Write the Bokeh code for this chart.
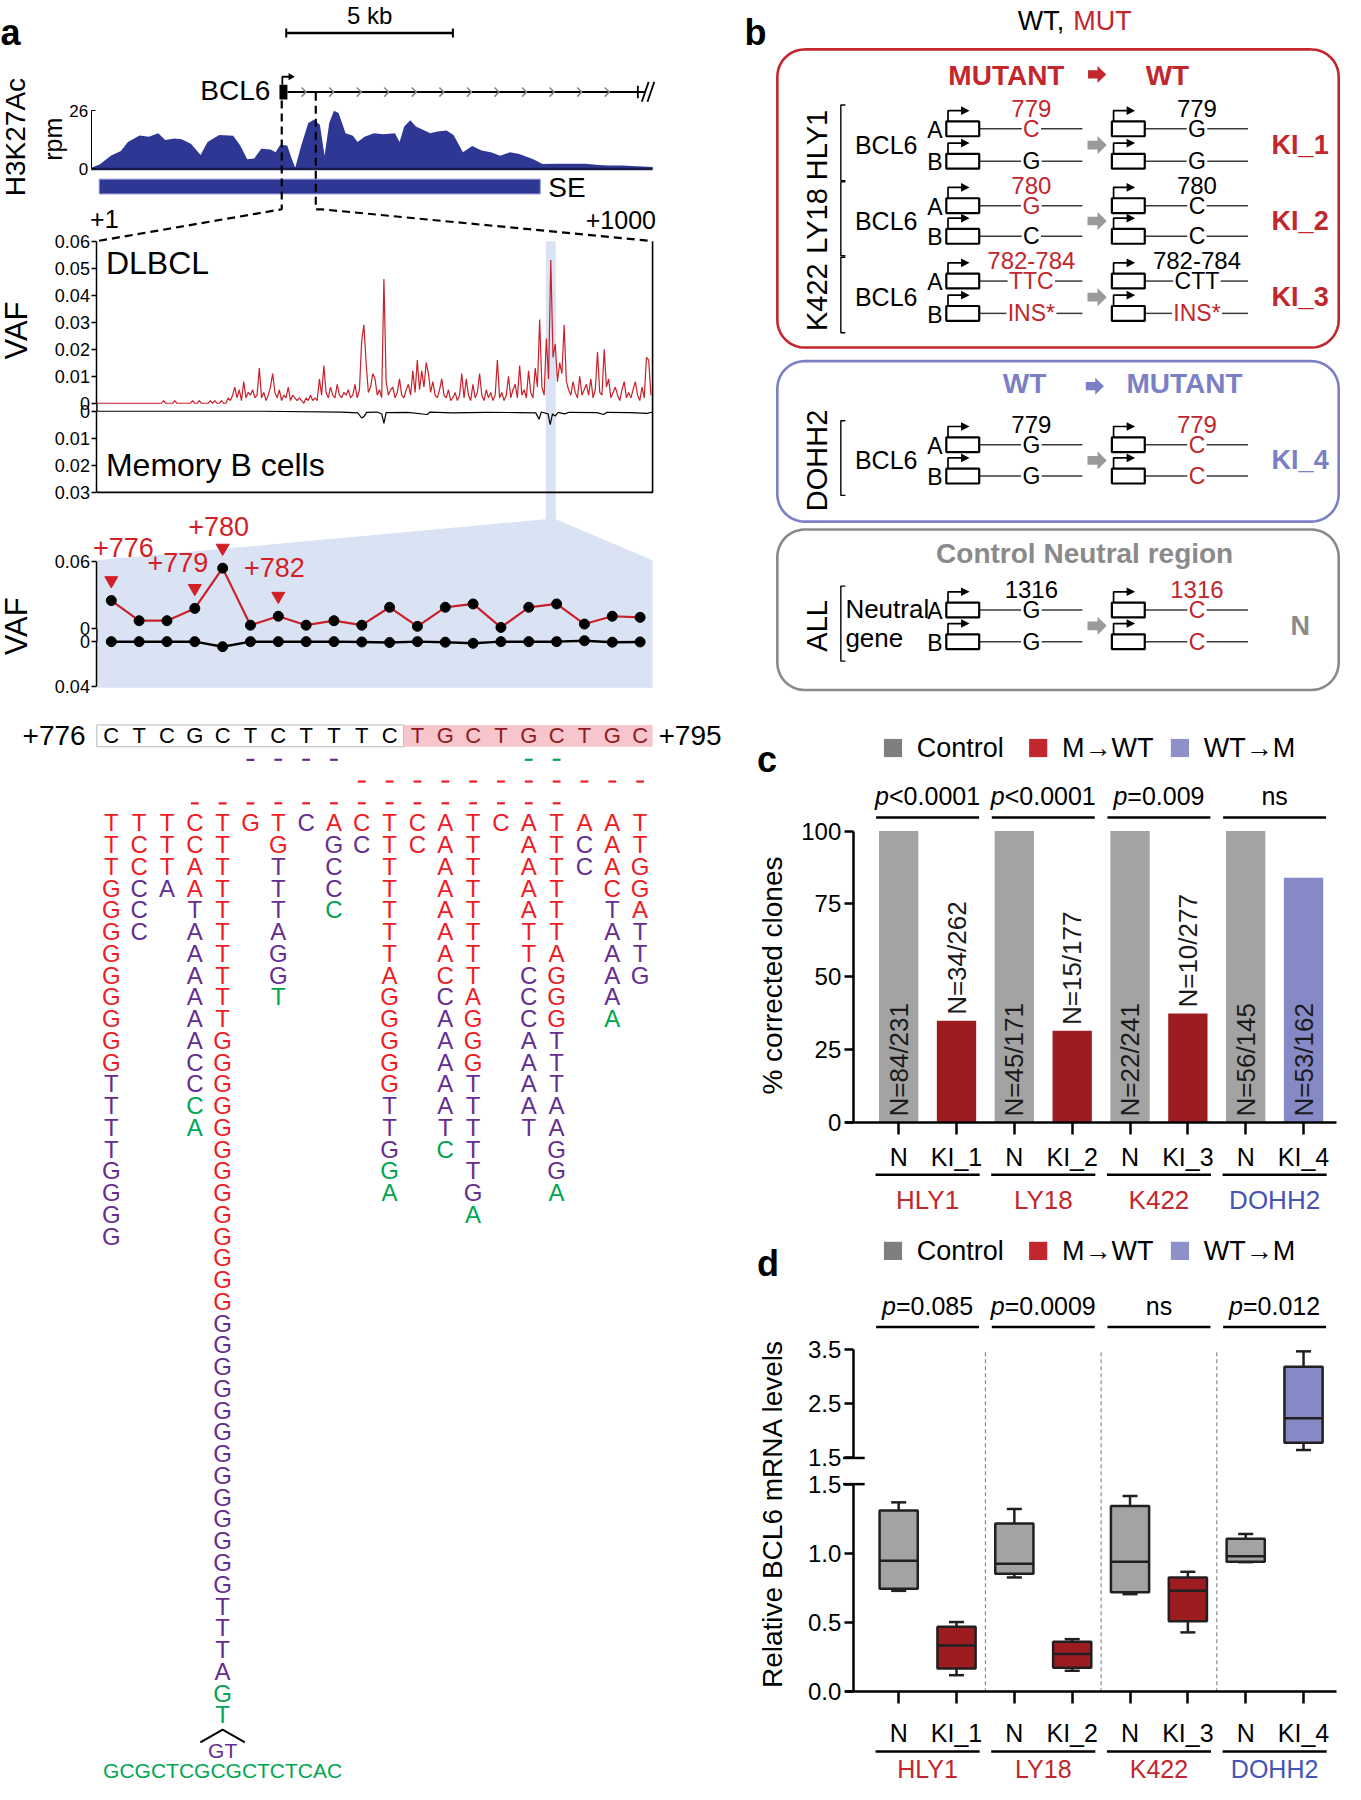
import math
from bokeh.plotting import figure
from bokeh.models import Range1d, LinearAxis, FixedTicker, ColumnDataSource, NumeralTickFormatter
from bokeh.core.properties import value, field
from bokeh.embed import file_html
from bokeh.resources import INLINE

# ============================ DATA ============================
# (a) H3K27Ac signal (kb from window start, rpm)
H3_KB = [0.00, 0.25, 0.60, 0.89, 1.10, 1.45, 1.73, 2.01, 2.22, 2.50, 2.71, 2.99, 3.28, 3.49, 3.84,
         4.26, 4.47, 4.68, 4.89, 5.10, 5.38, 5.53, 5.67, 5.88, 6.02, 6.12, 6.30, 6.51, 6.68, 6.86,
         7.00, 7.14, 7.28, 7.42, 7.63, 7.85, 7.99, 8.20, 8.48, 8.76, 9.11, 9.25, 9.39, 9.57, 9.74,
         9.95, 10.17, 10.38, 10.66, 10.87, 11.15, 11.43, 11.71, 11.99, 12.27, 12.56, 12.84, 13.26,
         13.54, 13.96, 14.38, 14.81, 15.23, 15.51, 15.93, 16.35, 16.84]
H3_RPM = [0.5, 2, 6, 8, 12, 15, 14.4, 16, 13, 13.6, 13.3, 11.3, 6.2, 12, 15.2,
          14.9, 10.5, 4.3, 4.6, 9, 8.7, 7.4, 10.8, 10.5, 4.3, 0.5, 10.5, 20.6, 22, 19.8,
          5.9, 20.6, 26, 25, 16, 14.9, 12, 14.4, 16, 15.5, 16, 12, 19, 21.8, 19,
          17.5, 16, 16.7, 17.2, 15.2, 7.4, 10.2, 8.2, 7.4, 5.9, 7.4, 6.7, 4.3,
          2.2, 2.3, 2.3, 2.3, 1.7, 1.5, 1.5, 1.2, 0.9]
SE_KB = (0.24, 13.47)
SCALE_KB = 5
H3_TICKS = [0, 26]

# (a) VAF along +1..+1000
DLBCL_POS = list(range(1, 1000, 4))
DLBCL_VAF_PERMIL = [
    0, 0, 0, 0, 0, 0, 0, 0, 0, 0,
    0, 0, 0, 0, 0, 0, 0, 0, 0, 0,
    0, 0, 0, 0, 0, 0, 0, 0, 0, 0,
    1, 0, 0, 0, 0, 1, 0, 0, 0, 0,
    0, 0, 0, 1, 0, 0, 1, 0, 0, 0,
    0, 1, 0, 1, 0, 0, 1, 0, 0, 2,
    1, 3, 6, 2, 5, 1, 8, 2, 4, 3,
    5, 2, 3, 13, 2, 4, 1, 3, 6, 11,
    4, 2, 5, 1, 3, 2, 6, 1, 3, 2,
    1, 2, 1, 0, 2, 1, 3, 1, 2, 1,
    9, 3, 14, 4, 2, 6, 3, 2, 7, 3,
    2, 4, 3, 5, 2, 3, 7, 2, 5, 23,
    29, 15, 4, 6, 11, 9, 3, 5, 2, 46,
    8, 3, 5, 6, 2, 4, 9, 3, 2, 5,
    7, 3, 12, 4, 16, 5, 12, 6, 15, 11,
    4, 8, 3, 2, 5, 9, 3, 2, 5, 1,
    2, 4, 1, 3, 11, 2, 9, 3, 1, 7,
    2, 4, 11, 3, 1, 5, 2, 4, 1, 3,
    16, 2, 4, 1, 3, 10, 2, 5, 7, 2,
    14, 3, 5, 2, 12, 4, 2, 13, 6, 31,
    6, 3, 24, 9, 53, 17, 22, 8, 15, 11,
    29, 8, 5, 3, 8, 4, 2, 10, 3, 5,
    7, 3, 9, 2, 5, 19, 4, 3, 20, 6,
    9, 2, 4, 6, 3, 1, 5, 8, 2, 4,
    2, 5, 8, 3, 1, 6, 2, 17, 16, 3]
MEMB_POS = [1, 300, 440, 470, 477, 481, 486, 505, 513, 517, 521, 560, 595, 600, 640, 700, 760,
            790, 796, 800, 812, 816, 820, 825, 830, 842, 850, 900, 912, 918, 960, 990, 1000]
MEMB_VAF = [0, 0, 0.0003, 0.0006, 0.0025, 0.002, 0.0004, 0.0003, 0.001, 0.0045, 0.0005, 0.0004,
            0.0012, 0.0003, 0.0006, 0.0004, 0.0005, 0.0006, 0.003, 0.0003, 0.001, 0.005, 0.001,
            0.0018, 0.0004, 0.001, 0.0004, 0.0005, 0.0012, 0.0004, 0.0005, 0.0008, 0.0003]
VAF_TICKS = [0, 0.01, 0.02, 0.03, 0.04, 0.05, 0.06]
MEMB_TICKS = [0, 0.01, 0.02, 0.03]
HIGHLIGHT_POS = (808, 826)

# (a) zoom +776..+795
ZOOM_POS = [776, 777, 778, 779, 780, 781, 782, 783, 784, 785,
            786, 787, 788, 789, 790, 791, 792, 793, 794, 795]
ZOOM_DLBCL = [0.025, 0.007, 0.007, 0.018, 0.054, 0.003, 0.011, 0.003, 0.007, 0.003,
              0.019, 0.002, 0.019, 0.022, 0.001, 0.019, 0.022, 0.004, 0.011, 0.010]
ZOOM_MEMB = [0.0, 0.0, 0.0, 0.0, 0.0045, 0.0, 0.0, 0.0, 0.0, 0.0003,
             0.0008, 0.0, 0.0005, 0.0015, 0.0, 0.0, 0.0, -0.0008, 0.0005, 0.0003]
ZOOM_MARKS = [776, 779, 780, 782]
ZOOM_UP_TICKS = [0, 0.06]
ZOOM_DOWN_TICKS = [0, 0.04]

REF_SEQ = "CTCGCTCTTTCTGCTGCTGC"
REF_HL_START = 11
DEL_MARKS = [
    [("p", [5, 6, 7, 8]), ("g", [15, 16])],
    [("r", [9, 10, 11, 12, 13, 14, 15, 16, 17, 18, 19])],
    [("r", [3, 4, 5, 6, 7, 8, 9, 10, 11, 12, 13, 14, 15, 16])],
]
ALN_SEQ = [
    "TTTGGGGGGGGGTTTTGGGG", "TCCCCC", "TTTA", "CCAATAAAAAACCCA",
    "TTTTTTTTTT" "GGGGGGGGGGGGG" "GGGGGGGGGGGGG" "TTTAGT",
    "G", "TGTTTAGGT", "C", "AGCCC", "CC", "TTTTTTTAGGGGGTTGGA", "CC",
    "AAAAAAACCAAAAATC", "TTTTTTTTAGGGTTTTTGA", "C", "AAAAATTCCCAAAAT",
    "TTTTTTAGGGTTTAAGGA", "ACC", "AAACTAAAAA", "TTGGATTG"]
ALN_RUNS = [
    [("r", 12), ("p", 8)], [("r", 3), ("p", 3)], [("r", 3), ("p", 1)],
    [("r", 4), ("p", 9), ("g", 2)], [("r", 23), ("p", 17), ("g", 2)], [("r", 1)],
    [("r", 2), ("p", 6), ("g", 1)], [("p", 1)], [("r", 1), ("p", 3), ("g", 1)],
    [("r", 1), ("p", 1)], [("r", 13), ("p", 3), ("g", 2)], [("r", 2)],
    [("r", 8), ("p", 7), ("g", 1)], [("r", 12), ("p", 6), ("g", 1)], [("r", 1)],
    [("r", 7), ("p", 8)], [("r", 10), ("p", 7), ("g", 1)], [("r", 1), ("p", 2)],
    [("r", 4), ("p", 5), ("g", 1)], [("r", 5), ("p", 3)]]
INS_COL = 4
INS_GT = "GT"
INS_SEQ = "GCGCTCGCGCTCTCAC"

# (b) knock-in design
B_CELL = ["HLY1", "LY18", "K422", "DOHH2", "ALL"]
B_GENE = ["BCL6", "BCL6", "BCL6", "BCL6", "Neutral gene"]
B_SITE = ["779", "780", "782-784", "779", "1316"]
B_BEFORE = [("C", "G"), ("G", "C"), ("TTC", "INS*"), ("G", "G"), ("G", "G")]
B_BEFORE_MUT = [(True, False), (True, False), (True, True), (False, False), (False, False)]
B_AFTER = [("G", "G"), ("C", "C"), ("CTT", "INS*"), ("C", "C"), ("C", "C")]
B_AFTER_MUT = [(False, False), (False, False), (False, True), (True, True), (True, True)]
B_SITE_MUT = [(True, False), (True, False), (True, False), (False, True), (False, True)]
B_CLONE = ["KI_1", "KI_2", "KI_3", "KI_4", "N"]

# (c) corrected clones
GROUPS = ["HLY1", "LY18", "K422", "DOHH2"]
CONDS = ["N", "KI_1", "N", "KI_2", "N", "KI_3", "N", "KI_4"]
KIND = ["ctrl", "mwt", "ctrl", "mwt", "ctrl", "mwt", "ctrl", "wtm"]
C_PCT = [100, 34.9, 100, 31.4, 100, 37.4, 100, 84.0]
C_N = ["N=84/231", "N=34/262", "N=45/171", "N=15/177", "N=22/241", "N=10/277", "N=56/145", "N=53/162"]
C_P = ["p<0.0001", "p<0.0001", "p=0.009", "ns"]
C_TICKS = [0, 25, 50, 75, 100]
LEGEND = ["Control", "M\u2192WT", "WT\u2192M"]

# (d) BCL6 mRNA
D_P = ["p=0.085", "p=0.0009", "ns", "p=0.012"]
D_WLO = [0.727, 0.116, 0.824, 0.148, 0.703, 0.426, 0.935, 1.647]
D_Q1 = [0.743, 0.164, 0.851, 0.170, 0.716, 0.506, 0.937, 1.781]
D_MED = [0.945, 0.331, 0.924, 0.269, 0.937, 0.727, 0.978, 2.236]
D_Q3 = [1.309, 0.466, 1.215, 0.358, 1.341, 0.824, 1.104, 3.186]
D_WHI = [1.368, 0.501, 1.320, 0.377, 1.414, 0.865, 1.139, 3.473]
D_LO_TICKS = [0, 0.5, 1.0, 1.5]
D_HI_TICKS = [1.5, 2.5, 3.5]

# ============================ STYLE ============================
W, H = 1345, 1784
CW, CH = 1186.0, 1568.0
S = W / CW
FONT = "Liberation Sans"
RED = "#c1272d"
PURP = "#7b7fc6"
GRAYT = "#8a8a8a"
TRACK = "#2f3794"
LIGHTBLUE = "#dae3f3"
VAFRED = "#c9202a"
SEQ_COL = {"r": "#ee1c25", "p": "#662d91", "g": "#00a651"}
KIND_FILL = {"ctrl": "#a3a3a3", "mwt": "#9d1c20", "wtm": "#8589c6"}
LEG_FILL = ["#7f7f7f", "#c1272d", "#8d90c9"]
GROUP_COL = [RED, RED, RED, "#4654b4"]
EM = {"p": .556, "n": .556, "s": .5, "<": .584, "=": .584, ".": .278, "C": .722, "G": .778,
      "T": .611, "A": .667, "I": .278, "N": .722, "S": .667, "*": .389}

p = figure(width=W, height=H, x_range=Range1d(0, CW), y_range=Range1d(CH, 0),
           output_backend="svg", toolbar_location=None, min_border=0,
           x_axis_location=None, y_axis_location=None)
p.outline_line_color = None
p.grid.visible = False
p.background_fill_color = "white"
p.border_fill_color = "white"


def xmap(px0, v0, px1, v1):
    k = (v1 - v0) / (px1 - px0)
    return Range1d(start=v0 - px0 * k, end=v0 + (CW - px0) * k)


def ymap(px0, v0, px1, v1):
    k = (v1 - v0) / (px1 - px0)
    return Range1d(start=v0 + (CH - px0) * k, end=v0 - px0 * k)


p.extra_x_ranges = {
    "kb": xmap(80, 0, 575, 16.84),
    "pos": xmap(85, 1, 575, 1000),
    "zpos": xmap(97.7, 776, 564, 795),
    "cx": xmap(792, 0, 1149, 7),
}
p.extra_y_ranges = {
    "rpm": ymap(148, 0, 97, 26),
    "vaf": ymap(354, 0, 211.5, 0.06),
    "vafm": ymap(361, 0, 432.3, 0.03),
    "zvaf": ymap(552, 0, 493, 0.06),
    "zvafm": ymap(563.5, 0, 603, 0.04),
    "row": ymap(722.8, 0, 741.92, 1),
    "cy": ymap(986, 0, 730, 100),
    "dlo": ymap(1486, 0, 1304, 1.5),
    "dhi": ymap(1281, 1.5, 1186, 3.5),
}


def lst(v):
    return list(v) if isinstance(v, (list, tuple)) else [v]


def T(x, y, s, size, color="black", align="center", baseline="middle", style="normal",
      angle=0.0, xn="default", yn="default", xoff=0):
    xs, ys, ss = lst(x), lst(y), lst(s)
    data = dict(x=xs, y=ys, text=ss)
    if isinstance(color, list):
        data["c"] = color
        tc = field("c")
    else:
        tc = color
    p.text(x="x", y="y", text="text", source=ColumnDataSource(data), text_color=tc,
           text_font=value(FONT), text_font_size=f"{size}px", text_align=align,
           text_baseline=baseline, text_font_style=style, angle=angle, x_offset=xoff,
           x_range_name=xn, y_range_name=yn)


def L(xs, ys, color="black", width=1.5, dash="solid", xn="default", yn="default"):
    p.line(list(xs), list(ys), line_color=color, line_width=width, line_dash=dash,
           x_range_name=xn, y_range_name=yn)


def SEG(x0, y0, x1, y1, color="black", width=1.5, dash="solid", xn="default", yn="default"):
    p.segment(x0=lst(x0), y0=lst(y0), x1=lst(x1), y1=lst(y1), line_color=color,
              line_width=width, line_dash=dash, x_range_name=xn, y_range_name=yn)


def POLY(xs, ys, fill, line=None, lw=1.0):
    p.patch(list(xs), list(ys), fill_color=fill, line_color=line, line_width=lw)


def text_w(s, size):
    return sum(EM.get(c, .556) for c in s) * size / S


def style_axis(ax, size, tick_out, tick_in=0, width=1.5, standoff=3):
    ax.major_label_text_font = FONT
    ax.major_label_text_font_size = f"{size}px"
    ax.major_label_text_color = "black"
    ax.axis_line_width = width
    ax.axis_line_color = "black"
    ax.major_tick_line_width = width
    ax.major_tick_line_color = "black"
    ax.major_tick_out = tick_out
    ax.major_tick_in = tick_in
    ax.minor_tick_line_color = None
    ax.major_label_standoff = standoff


def vaxis(rng, xloc, bounds, ticks, size, fmt, tick_out=5, width=1.5, standoff=2):
    ax = LinearAxis(y_range_name=rng, fixed_location=xloc, bounds=bounds,
                    ticker=FixedTicker(ticks=list(ticks)), formatter=NumeralTickFormatter(format=fmt))
    style_axis(ax, size, tick_out, width=width, standoff=standoff)
    p.add_layout(ax, "left")


def block_arrow(xc, yc, w, h, color):
    x0, xm, x1 = xc - w / 2, xc + w * 0.02, xc + w / 2
    POLY([x0, xm, xm, x1, xm, xm, x0],
         [yc - h * 0.24, yc - h * 0.24, yc - h / 2, yc, yc + h / 2, yc + h * 0.24, yc + h * 0.24], color)


def rrect(x0, y0, x1, y1, r, color, lw=2.6):
    xs, ys = [], []
    for cx, cy, a0 in [(x1 - r, y0 + r, -90), (x1 - r, y1 - r, 0), (x0 + r, y1 - r, 90), (x0 + r, y0 + r, 180)]:
        for k in range(11):
            a = math.radians(a0 + 9 * k)
            xs.append(cx + r * math.cos(a))
            ys.append(cy + r * math.sin(a))
    xs.append(xs[0]); ys.append(ys[0])
    p.line(xs, ys, line_color=color, line_width=lw)


# ============================ PANEL A ============================
T(0, 28, "a", 36, style="bold", align="left", baseline="alphabetic")
sb0 = 5.85
SEG(sb0, 28.5, sb0 + SCALE_KB, 28.5, width=2.4, xn="kb")
SEG([sb0, sb0 + SCALE_KB], [24.5, 24.5], [sb0, sb0 + SCALE_KB], [32.5, 32.5], width=2, xn="kb")
T(sb0 + SCALE_KB / 2, 13, f"{SCALE_KB} kb", 24, xn="kb")

T(13, 120, "H3K27Ac", 28, angle=math.pi / 2)
T(46, 122, "rpm", 25, angle=math.pi / 2)

# gene model
T(238, 79, "BCL6", 28, align="right")
L([253, 569], [80.5, 80.5], width=2)
p.quad(left=[246], right=[253], top=[74], bottom=[87], fill_color="black", line_color=None)
L([248.5, 248.5, 255], [74, 67, 67], width=1.8)
POLY([254, 259.5, 254], [63.8, 67, 70.2], "black")
chev_x = [268 + 24.3 * j for j in range(12)]
p.multi_line([[x - 2.5, x + 1.5, x - 2.5] for x in chev_x], [[76.5, 80.5, 84.5] for _ in chev_x],
             line_color="#8a8a8a", line_width=1.6)
SEG(562, 75, 562, 86, width=1.8)
SEG([565.5, 570.5], [89, 89], [571.5, 576.5], [71.5, 71.5], width=1.8)

# track
p.varea(x=H3_KB, y1=[0] * len(H3_KB), y2=H3_RPM, fill_color=TRACK,
        x_range_name="kb", y_range_name="rpm")
SEG(H3_KB[0], 0, H3_KB[-1], 0, color="#1c1c4a", width=2.5, xn="kb", yn="rpm")
ax = LinearAxis(y_range_name="rpm", fixed_location=80, bounds=(0, 26),
                ticker=FixedTicker(ticks=H3_TICKS))
style_axis(ax, 17, 0, tick_in=4, width=1, standoff=3)
p.add_layout(ax, "left")
p.quad(left=[SE_KB[0]], right=[SE_KB[1]], top=[157], bottom=[170], fill_color=TRACK,
       line_color="#8f95d0", line_width=1, x_range_name="kb")
T(483, 164, "SE", 28, align="left")

# dashed zoom guides
L([248, 248, 85], [88, 183.5, 211.5], dash="8 5", width=2.2)
L([278, 278, 283, 575], [81, 183.5, 183.5, 211.5], dash="8 5", width=2.2)
T(79, 192, "+1", 25, align="left")
T(578, 193, "+1000", 25, align="right")


def pos_px(v):
    return 85 + (v - 1) * 490 / 999


hx0, hx1 = pos_px(HIGHLIGHT_POS[0]), pos_px(HIGHLIGHT_POS[1])
POLY([hx0, hx1, hx1, 575, 575, 85, 85, hx0], [211.5, 211.5, 456, 492, 604, 604, 492, 456], LIGHTBLUE)

# VAF plot
L(DLBCL_POS, [v / 1000 for v in DLBCL_VAF_PERMIL], color=VAFRED, width=1.2, xn="pos", yn="vaf")
L(MEMB_POS, MEMB_VAF, color="black", width=1.2, xn="pos", yn="vafm")
L([575, 575, 85], [211.5, 432.3, 432.3], width=1.6)
SEG(85, 354, 85, 361, width=1.5)
vaxis("vaf", 85, (0, 0.06), VAF_TICKS, 18, "0.[00]")
vaxis("vafm", 85, (0, 0.03), MEMB_TICKS, 18, "0.[00]")
T(93, 231, "DLBCL", 32, align="left")
T(93, 408, "Memory B cells", 32, align="left")
T(14, 290, "VAF", 31, angle=math.pi / 2)

# zoom VAF plot
L(ZOOM_POS, ZOOM_DLBCL, color=VAFRED, width=2.2, xn="zpos", yn="zvaf")
p.scatter(ZOOM_POS, ZOOM_DLBCL, size=10, color="black", x_range_name="zpos", y_range_name="zvaf")
L(ZOOM_POS, ZOOM_MEMB, color="black", width=2.5, xn="zpos", yn="zvafm")
p.scatter(ZOOM_POS, ZOOM_MEMB, size=10, color="black", x_range_name="zpos", y_range_name="zvafm")
SEG(85, 552, 85, 563.5, width=1.5)
vaxis("zvaf", 85, (0, 0.06), ZOOM_UP_TICKS, 18, "0.[00]")
vaxis("zvafm", 85, (0, 0.04), ZOOM_DOWN_TICKS, 18, "0.[00]")
MARK_DX = [12, -17, -4, -4]
MARK_DY = [0.047, 0.041, 0.0375, 0.044]
for m, dx, dy in zip(ZOOM_MARKS, MARK_DX, MARK_DY):
    v = ZOOM_DLBCL[ZOOM_POS.index(m)]
    p.scatter([m], [v + 0.018], marker="inverted_triangle", size=13, color="#d21f26",
              x_range_name="zpos", y_range_name="zvaf")
    T(m, v + dy, f"+{m}", 27, color="#d21f26", xn="zpos", yn="zvaf", xoff=dx)
T(14, 550, "VAF", 31, angle=math.pi / 2)

# reference sequence header
z0 = ZOOM_POS[0]
p.quad(left=[z0 - 0.52], right=[z0 + REF_HL_START - 0.5], top=[-4.5], bottom=[-3.5],
       fill_color="white", line_color="#b5b5b5", line_width=1, x_range_name="zpos", y_range_name="row")
p.quad(left=[z0 + REF_HL_START - 0.5], right=[z0 + len(REF_SEQ) - 0.55], top=[-4.5], bottom=[-3.5],
       fill_color="#f7c6cd", line_color=None, x_range_name="zpos", y_range_name="row")
T([z0 + i for i in range(len(REF_SEQ))], [-4] * len(REF_SEQ), list(REF_SEQ), 22,
  color=["black" if i < REF_HL_START else "#8e1b1f" for i in range(len(REF_SEQ))], xn="zpos", yn="row")
T(z0 - 0.92, -4, f"+{ZOOM_POS[0]}", 28, align="right", xn="zpos", yn="row")
T(ZOOM_POS[-1] + 0.66, -4, f"+{ZOOM_POS[-1]}", 28, align="left", xn="zpos", yn="row")

# deletion marks
for k, row in enumerate(DEL_MARKS):
    for c, idxs in row:
        SEG([z0 + i - 0.14 for i in idxs], [-2.9 + k] * len(idxs), [z0 + i + 0.14 for i in idxs],
            [-2.9 + k] * len(idxs), color=SEQ_COL[c], width=2.2, xn="zpos", yn="row")

# alignment letters
axs, ays, ats, acs = [], [], [], []
for i, (seq, runs) in enumerate(zip(ALN_SEQ, ALN_RUNS)):
    cols = "".join(c * n for c, n in runs)
    for r, (ch, cc) in enumerate(zip(seq, cols)):
        axs.append(z0 + i); ays.append(r); ats.append(ch); acs.append(SEQ_COL[cc])
T(axs, ays, ats, 24, color=acs, xn="zpos", yn="row")
ic = z0 + INS_COL
nrow = len(ALN_SEQ[INS_COL])
L([ic - 0.8, ic, ic + 0.8], [nrow + 0.27, nrow - 0.32, nrow + 0.27], width=2, xn="zpos", yn="row")
T(ic, nrow + 0.63, INS_GT, 21, color=SEQ_COL["p"], xn="zpos", yn="row")
T(ic, nrow + 1.56, INS_SEQ, 21, color=SEQ_COL["g"], xn="zpos", yn="row")

# ============================ PANEL B ============================
T(656, 28, "b", 36, style="bold", align="left", baseline="alphabetic")
T(938, 18, "WT,", 27, align="right")
T(946, 18, "MUT", 27, color=RED, align="left")
rrect(685, 43, 1180, 305, 24, RED)
rrect(685, 317, 1180, 458, 24, PURP)
rrect(685, 465, 1180, 606, 24, GRAYT)
T(887, 66, "MUTANT", 28, color=RED, style="bold")
block_arrow(967, 65, 16, 15, RED)
T(1029, 66, "WT", 28, color=RED, style="bold")
T(903, 337, "WT", 28, color=PURP, style="bold")
block_arrow(965, 339, 16, 15, PURP)
T(1044, 337, "MUTANT", 28, color=PURP, style="bold")
T(956, 486, "Control Neutral region", 28, color=GRAYT, style="bold")

ROW_A = [112.8, 180.3, 246.6, 390.4, 535.7]
ROW_B = [141.3, 207.3, 275.0, 418.0, 563.6]
CLONE_COL = [RED, RED, RED, PURP, GRAYT]
ALLELE_SIZE = 23
for i in range(len(B_CELL)):
    ya, yb = ROW_A[i], ROW_B[i]
    mid = (ya + yb) / 2
    T(720, mid, B_CELL[i], 29, angle=math.pi / 2)
    top, bot = ya - 21, yb + 17
    L([745, 741, 741, 745], [top, top, bot, bot], width=1.4)
    words = B_GENE[i].split()
    if len(words) == 1:
        T(781, mid, words[0], 25)
    else:
        T(745, ya - 1, words[0], 26, align="left")
        T(745, yb - 3, words[1], 26, align="left")
    T([824, 824], [ya + 1, yb + 1], ["A", "B"], 23)
    for side, (bx, alle, mut, smut) in enumerate([
            (834, B_BEFORE[i], B_BEFORE_MUT[i], B_SITE_MUT[i][0]),
            (980, B_AFTER[i], B_AFTER_MUT[i], B_SITE_MUT[i][1])]):
        lx1 = bx + 120
        lc = bx + 75
        T(lc, ya - 18, B_SITE[i], 24, color=RED if smut else "black")
        for y, a, m in zip([ya, yb], alle, mut):
            gw = text_w(a, ALLELE_SIZE) / 2 + 1.2
            SEG([bx + 29, lc + gw], [y, y], [lc - gw, lx1], [y, y], color="#3a3a3a", width=1.5)
            p.quad(left=[bx], right=[bx + 29], top=[y - 6.5], bottom=[y + 6.5], fill_color="white",
                   line_color="black", line_width=2.2)
            L([bx + 1.5, bx + 1.5, bx + 14], [y - 6.5, y - 16, y - 16], width=1.7)
            POLY([bx + 13, bx + 20.5, bx + 13], [y - 19.8, y - 16, y - 12.2], "black")
            T(lc, y, a, ALLELE_SIZE, color=RED if m else "black")
    block_arrow(967, mid, 17, 16, "#9a9a9a")
    T(1146, mid, B_CLONE[i], 27, color=CLONE_COL[i], style="bold")

# ============================ PANELS C / D (shared) ============================
def legend(y):
    for x, lab, col in zip([779, 907, 1032], LEGEND, LEG_FILL):
        p.quad(left=[x], right=[x + 16], top=[y - 8], bottom=[y + 8], fill_color=col, line_color=None)
        T(x + 29, y, lab, 27, align="left")


def pvalues(labels, y_text, y_line):
    for k, s in enumerate(labels):
        c = 2 * k + 0.5
        SEG(c - 0.89, y_line, c + 0.89, y_line, width=2.5, xn="cx")
        if s.startswith("p"):
            wpx = sum(EM.get(ch, .556) for ch in s) * 25
            off = -wpx / 2 + .556 * 25
            T(c, y_text, "p", 25, align="right", style="italic", xn="cx", xoff=off)
            T(c, y_text, s[1:], 25, align="left", xn="cx", xoff=off)
        else:
            T(c, y_text, s, 25, xn="cx")


def groups(y_line, y_lab, size=26):
    for k, g in enumerate(GROUPS):
        c = 2 * k + 0.5
        SEG(c - 0.9, y_line, c + 0.9, y_line, width=2.5, xn="cx")
        T(c, y_lab, g, size, color=GROUP_COL[k], xn="cx")


def cat_axis(ypx, standoff):
    ax = LinearAxis(x_range_name="cx", fixed_location=ypx, bounds=(-0.92, 7.57),
                    ticker=FixedTicker(ticks=list(range(len(CONDS)))),
                    major_label_overrides={i: c for i, c in enumerate(CONDS)})
    style_axis(ax, 25, 12, width=2.5, standoff=standoff)
    p.add_layout(ax, "below")


# ---- panel c ----
T(667, 667, "c", 36, style="bold", align="left", baseline="alphabetic")
legend(657)
pvalues(C_P, 699, 718)
xs_idx = list(range(len(CONDS)))
p.vbar(x=xs_idx, top=C_PCT, bottom=0, width=0.68, fill_color=[KIND_FILL[k] for k in KIND],
       line_color=None, x_range_name="cx", y_range_name="cy")
for i, (lab, k) in enumerate(zip(C_N, KIND)):
    y0 = 2 if k != "mwt" else C_PCT[i] + 2
    T(i, y0, lab, 26, color="#1a1a1a", align="left", angle=math.pi / 2, xn="cx", yn="cy")
ax = LinearAxis(y_range_name="cy", fixed_location=752, bounds=(0, 100),
                ticker=FixedTicker(ticks=C_TICKS))
style_axis(ax, 24, 9, width=2.5, standoff=3)
p.add_layout(ax, "left")
cat_axis(986, 9)
groups(1032, 1054)
T(681, 857, "% corrected clones", 28, angle=math.pi / 2)

# ---- panel d ----
T(667, 1110, "d", 36, style="bold", align="left", baseline="alphabetic")
legend(1099)
pvalues(D_P, 1147, 1166)
for sx in [1.5, 3.5, 5.5]:
    SEG(sx, 1188, sx, 1486, color="#8c8c8c", width=1.2, dash="4 3", xn="cx")
lo = [i for i in range(len(CONDS)) if D_Q3[i] <= 1.5]
hi = [i for i in range(len(CONDS)) if D_Q3[i] > 1.5]
for idx, rng in [(lo, "dlo"), (hi, "dhi")]:
    if not idx:
        continue
    hw, cw = 0.33, 0.13
    SEG([i for i in idx], [D_Q3[i] for i in idx], [i for i in idx], [D_WHI[i] for i in idx],
        color="#231f20", width=2.5, xn="cx", yn=rng)
    SEG([i for i in idx], [D_Q1[i] for i in idx], [i for i in idx], [D_WLO[i] for i in idx],
        color="#231f20", width=2.5, xn="cx", yn=rng)
    SEG([i - cw for i in idx] * 2, [D_WHI[i] for i in idx] + [D_WLO[i] for i in idx],
        [i + cw for i in idx] * 2, [D_WHI[i] for i in idx] + [D_WLO[i] for i in idx],
        color="#231f20", width=2.5, xn="cx", yn=rng)
    p.quad(left=[i - hw for i in idx], right=[i + hw for i in idx], bottom=[D_Q1[i] for i in idx],
           top=[D_Q3[i] for i in idx], fill_color=[KIND_FILL[KIND[i]] for i in idx],
           line_color="#231f20", line_width=2.5, x_range_name="cx", y_range_name=rng)
    SEG([i - hw for i in idx], [D_MED[i] for i in idx], [i + hw for i in idx], [D_MED[i] for i in idx],
        color="#231f20", width=2.5, xn="cx", yn=rng)
vaxis("dhi", 752, (1.5, 3.5), D_HI_TICKS, 24, "0.0", tick_out=9, width=2.5, standoff=3)
vaxis("dlo", 752, (0, 1.5), D_LO_TICKS, 24, "0.0", tick_out=9, width=2.5, standoff=3)
SEG([743, 743], [1281, 1304], [762, 762], [1281, 1304], width=2.5)
cat_axis(1486, 16)
groups(1539, 1554, size=25)
T(681, 1330, "Relative BCL6 mRNA levels", 28, angle=math.pi / 2)

open("out.html", "w").write(file_html(p, INLINE))
